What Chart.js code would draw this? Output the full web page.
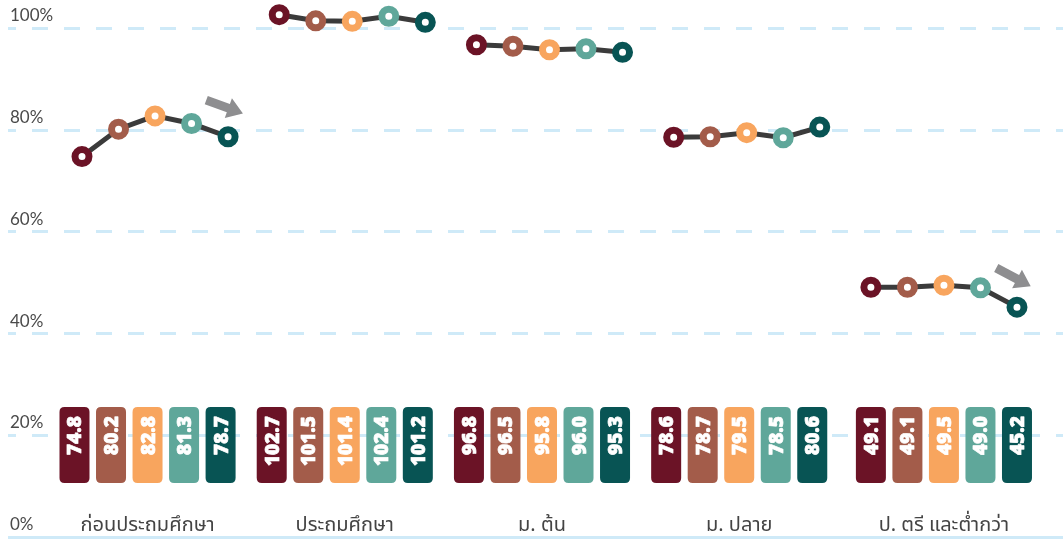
<!DOCTYPE html>
<html><head><meta charset="utf-8">
<script src="https://cdn.jsdelivr.net/npm/chart.js@4/dist/chart.umd.min.js"></script>
<style>html,body{margin:0;padding:0;background:#fff}#wrap{width:1063px;height:539px;position:relative}</style>
</head><body><div id="wrap"><canvas id="c"></canvas></div>
<script>
const categories = ['ก่อนประถมศึกษา', 'ประถมศึกษา', 'ม. ต้น', 'ม. ปลาย', 'ป. ตรี และต่ำกว่า'];
const preschool = [74.8, 80.2, 82.8, 81.3, 78.7];
const primary = [102.7, 101.5, 101.4, 102.4, 101.2];
const lowerSecondary = [96.8, 96.5, 95.8, 96.0, 95.3];
const upperSecondary = [78.6, 78.7, 79.5, 78.5, 80.6];
const bachelorOrLower = [49.1, 49.1, 49.5, 49.0, 45.2];
const groupValues = [preschool, primary, lowerSecondary, upperSecondary, bachelorOrLower];
const yTickValues = [0, 20, 40, 60, 80, 100];
const yTickLabels = ['0%', '20%', '40%', '60%', '80%', '100%'];
const arrowGroups = [0, 4];

const colors = ['#6b1326', '#a35c4a', '#f8a55e', '#5fa79a', '#085454'];
const GROUP_STEP = 5.4;
const LABEL_SHIFT = [-7.5, -7.5, -7.5, -7.5, 0];

const datasets = groupValues.map((vals, g) => ({
  data: vals.map((v, i) => ({ x: g * GROUP_STEP + i, y: v })),
  borderColor: '#3b3b3b',
  borderWidth: 5,
  pointRadius: 7,
  pointHoverRadius: 7,
  pointBorderWidth: 7,
  pointHoverBorderWidth: 7,
  pointBackgroundColor: '#ffffff',
  pointBorderColor: colors,
  tension: 0,
  clip: false
}));

function roundRect(ctx, x, y, w, h, r) {
  ctx.beginPath();
  ctx.moveTo(x + r, y);
  ctx.lineTo(x + w - r, y);
  ctx.quadraticCurveTo(x + w, y, x + w, y + r);
  ctx.lineTo(x + w, y + h - r);
  ctx.quadraticCurveTo(x + w, y + h, x + w - r, y + h);
  ctx.lineTo(x + r, y + h);
  ctx.quadraticCurveTo(x, y + h, x, y + h - r);
  ctx.lineTo(x, y + r);
  ctx.quadraticCurveTo(x, y, x + r, y);
  ctx.closePath();
}

const decor = {
  id: 'decor',
  afterDraw(chart) {
    const ctx = chart.ctx;
    const xs = chart.scales.x, ys = chart.scales.y;
    const area = chart.chartArea;
    ctx.save();
    // y tick labels
    ctx.font = '17px Lato';
    ctx.fillStyle = '#4a4a4a';
    ctx.textAlign = 'left';
    ctx.textBaseline = 'alphabetic';
    yTickValues.forEach((v, k) => {
      ctx.fillText(yTickLabels[k], area.left + 2, ys.getPixelForValue(v) - 7);
    });
    // value boxes
    groupValues.forEach((vals, g) => {
      vals.forEach((v, i) => {
        const cx = xs.getPixelForValue(g * GROUP_STEP + i) + LABEL_SHIFT[g];
        const top = area.bottom - 130;
        ctx.fillStyle = colors[i];
        roundRect(ctx, cx - 15, top, 30, 76, 5);
        ctx.fill();
        ctx.save();
        ctx.translate(cx, top + 9);
        ctx.rotate(-Math.PI / 2);
        ctx.fillStyle = '#ffffff';
        ctx.strokeStyle = '#ffffff';
        ctx.lineWidth = 0.7;
        ctx.lineJoin = 'round';
        ctx.font = '800 19px "Open Sans"';
        ctx.textAlign = 'right';
        ctx.textBaseline = 'alphabetic';
        ctx.fillText(v.toFixed(1), 0, 7);
        ctx.strokeText(v.toFixed(1), 0, 7);
        ctx.restore();
      });
      // category label
      const mid = xs.getPixelForValue(g * GROUP_STEP + 2) + LABEL_SHIFT[g];
      ctx.fillStyle = '#444444';
      ctx.font = '20px "Noto Sans Thai", "Noto Sans", sans-serif';
      ctx.textAlign = 'center';
      ctx.fillText(categories[g], mid, area.bottom - 6);
    });
    // arrows
    arrowGroups.forEach(g => {
      const meta = chart.getDatasetMeta(g);
      const p3 = meta.data[4], p2 = meta.data[3];
      const ang = Math.atan2(p3.y - p2.y, p3.x - p2.x);
      ctx.save();
      ctx.translate(p3.x - 3.5, p3.y - 30);
      ctx.rotate(ang);
      ctx.fillStyle = '#8e8e90';
      ctx.beginPath();
      ctx.moveTo(-19.5, -4.5);
      ctx.lineTo(4, -4.5);
      ctx.lineTo(4, -10.5);
      ctx.lineTo(19.5, 0);
      ctx.lineTo(4, 10.5);
      ctx.lineTo(4, 4.5);
      ctx.lineTo(-19.5, 4.5);
      ctx.closePath();
      ctx.fill();
      ctx.restore();
    });
    ctx.restore();
  }
};

new Chart(document.getElementById('c'), {
  type: 'line',
  data: { datasets },
  options: {
    responsive: true,
    maintainAspectRatio: false,
    animation: false,
    layout: { autoPadding: false, padding: { left: 8, right: 0, top: 3, bottom: 2 } },
    plugins: { legend: { display: false }, tooltip: { enabled: false } },
    events: [],
    scales: {
      x: { type: 'linear', display: false, min: -2.026, max: 26.86 },
      y: {
        type: 'linear',
        min: 0, max: 105,
        afterBuildTicks: (scale) => { scale.ticks = yTickValues.map(v => ({ value: v })); },
        ticks: { display: false },
        grid: { drawTicks: false, color: '#cfeaf8', lineWidth: 3 },
        border: {
          display: false,
          dash: (c) => (c.tick && c.tick.value === 0) ? [] : [16, 16],
          dashOffset: 8
        }
      }
    }
  },
  plugins: [decor]
});
</script>
</body></html>
